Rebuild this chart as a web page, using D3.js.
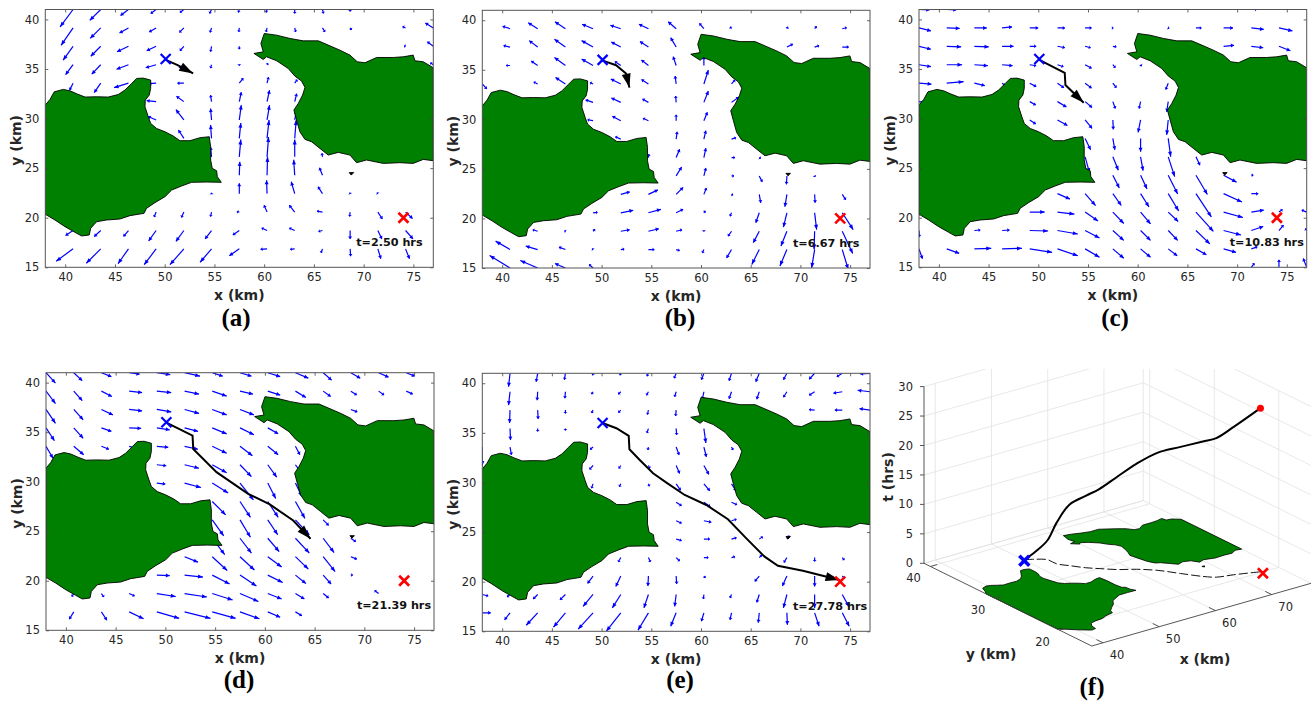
<!DOCTYPE html>
<html>
<head>
<meta charset="utf-8">
<script src="https://cdnjs.cloudflare.com/ajax/libs/d3/7.8.5/d3.min.js"></script>
<style>
  html, body { margin: 0; padding: 0; background: #fff; }
  svg { display: block; }
</style>
</head>
<body>
<div id="chart"></div>
<script>
// quiver grid (km), rows of the matrices below run from top (y=41) to bottom (y=15)
const xGrid = [38, 40.79, 43.57, 46.36, 49.14, 51.93, 54.71, 57.5, 60.29, 63.07, 65.86, 68.64, 71.43, 74.21, 77];
const yGrid = [41, 39.14, 37.29, 35.43, 33.57, 31.71, 29.86, 28, 26.14, 24.29, 22.43, 20.57, 18.71, 16.86, 15];

const xTicks = [40, 45, 50, 55, 60, 65, 70, 75];
const yTicks = [15, 20, 25, 30, 35, 40];
const panelNames = ["(a)", "(b)", "(c)", "(d)", "(e)"];
const panelTimes = ["t=2.50 hrs", "t=6.67 hrs", "t=10.83 hrs", "t=21.39 hrs", "t=27.78 hrs"];

// coast outlines (km)
const leftIslandX = [38, 38.47, 38.9, 39.81, 40.48, 41.22, 42, 43.16, 44.33, 45.34, 46, 46.68, 47.18, 47.85, 48.59, 48.59, 48.45, 48.05, 48.02, 48.35, 48.59, 49.19, 50.03, 50.86, 51.53, 52.54, 53.54, 54.48, 54.62, 54.62, 54.78, 55.22, 55.29, 55.69, 54.21, 52.71, 51.7, 50.7, 50.03, 49.02, 48.18, 47.92, 46.51, 45.5, 44.16, 43.16, 42.56, 42.42, 41.65, 40.98, 39.98, 38.97, 38.13, 38];
const leftIslandY = [31.36, 31.93, 32.7, 32.94, 32.8, 32.47, 32.17, 32.2, 32.17, 32.43, 32.87, 33.54, 34.05, 34.08, 33.88, 33.04, 32.37, 31.86, 31.19, 30.18, 29.51, 29, 28.67, 28.24, 27.77, 27.77, 28.07, 28.17, 27.16, 25.82, 24.98, 24.74, 24.14, 23.57, 23.6, 23.57, 23.2, 22.79, 22.12, 21.52, 20.95, 20.44, 20.21, 19.87, 19.77, 19.6, 18.93, 18.26, 18.16, 18.53, 19.1, 19.77, 20.27, 20.27];
const rightIslandX = [60.01, 61.25, 62.59, 63.93, 65.44, 66.44, 67.61, 68.62, 69.36, 70.13, 71.3, 72.97, 73.98, 74.98, 75.15, 75.99, 77, 77, 75.99, 74.98, 73.64, 71.97, 70.29, 69.29, 68.62, 67.45, 66.44, 65.6, 64.77, 64.1, 63.59, 63.26, 62.99, 63.43, 63.86, 64.1, 63.76, 63.09, 62.42, 61.25, 60.24, 59.91, 58.97, 59.91, 59.67];
const rightIslandY = [38.58, 38.41, 38.08, 37.84, 37.84, 37.41, 36.9, 36.4, 35.73, 35.63, 36.16, 36.16, 36.23, 36.4, 35.83, 35.73, 35.12, 25.75, 25.88, 25.48, 25.55, 25.48, 25.82, 25.55, 26.32, 26.59, 26.32, 26.99, 27.66, 27.9, 28.67, 29.85, 30.86, 31.53, 32.37, 33.14, 33.78, 34.28, 35.05, 35.83, 36.23, 35.96, 36.57, 36.73, 37.57];
const isletX = [68.55, 69, 68.75];
const isletY = [24.55, 24.55, 24.3];

const startPoint = [50.1, 36];
const goalPoint = [74, 20];

// vehicle tracks read per panel (km), last point is the arrow tip
const trackAX = [50.05, 51.3, 52.86];
const trackAY = [35.95, 35.4, 34.55];
const trackBX = [50.05, 51.46, 52.46, 52.8];
const trackBY = [35.95, 35.46, 34.62, 33.2];
const trackCX = [50.05, 52.66, 52.73, 54.57];
const trackCY = [35.95, 34.62, 33.38, 31.6];
const trackDX = [50.1, 52.73, 52.8, 55.14, 58.32, 60.5, 62.85, 64.59];
const trackDY = [35.97, 34.66, 33.3, 30.96, 28.77, 27.7, 26.08, 24.24];
const trackEX = [50.15, 51.49, 52.73, 52.8, 53.84, 55.18, 56.52, 58.36, 60.54, 62.71, 64.56, 66.4, 67.74, 70.25, 73.94];
const trackEY = [35.97, 35.46, 34.69, 33.34, 32.27, 30.92, 29.98, 28.74, 27.73, 26.29, 24.37, 22.52, 21.61, 21.1, 20.17];
const trackT = [0, 1.3, 3.3, 7, 10.35, 12.2, 13.5, 15.8, 17.9, 20, 21.5, 22.9, 23.6, 25.1, 27.78];

// flow arrows, displacement in km on the chart
const uA = [
  [0,-1.3,-1.1,-.8,-.55,-.4,-.2,-.1,-.1,0,.1,0,0,0,0],
  [0,-1.2,-1.05,-.9,-.7,-.45,-.15,-.05,-.1,.1,.25,.15,0,-.3,-.8],
  [0,-1,-1,-1.15,-.95,-.4,-.1,0,0,0,0,0,0,-.15,-.6],
  [0,-.75,-.9,-1.2,-1.05,-.5,-.1,0,.1,0,0,0,0,0,-.3],
  [0,-.35,-.65,-1.45,-.7,-.65,0,.4,.15,.25,0,0,0,0,0],
  [0,0,0,0,-.95,-.75,-.1,.2,.25,.2,0,0,0,0,0],
  [0,0,0,0,-.8,-.8,-.1,.2,.25,.15,0,0,0,0,0],
  [0,0,0,0,0,-.55,-.1,.15,.2,.15,0,0,0,0,0],
  [0,0,0,0,0,0,-.1,.15,.15,0,-.05,0,0,0,0],
  [0,0,0,0,0,0,0,.05,.05,-.1,-.3,0,0,0,0],
  [0,0,0,0,0,0,0,0,-.05,-.35,-.45,-.05,-.1,0,0],
  [0,0,0,0,-.2,-.25,-.1,-.25,-.3,-.55,-.55,-.05,.45,.7,0],
  [0,-.75,-.65,-.5,-.75,-.8,-.65,-.65,-.55,-.55,-.4,0,.4,.75,0],
  [0,-1.7,-1.45,-1.05,-1.2,-1.4,-1.15,-1,-.65,-.45,-.15,.05,.3,.4,0],
  [0,0,0,0,0,0,0,0,0,0,0,0,0,0,0]
];
const vA = [
  [0,-1.75,-1.1,-.6,-.4,-.3,-.4,-.3,-.3,-.4,-.4,-.2,0,0,0],
  [0,-1.75,-1.05,-.5,-.4,-.45,-.45,-.4,-.4,-.4,-.4,-.2,0,.15,.5],
  [0,-1.4,-1,-.55,-.45,-.45,-.55,-.3,0,0,0,0,0,.05,.45],
  [0,-1,-.95,-.45,-.3,-.3,-.35,-.1,.15,0,0,0,0,0,.2],
  [0,-.7,-.95,-.45,-.05,0,0,.5,.6,.35,0,0,0,0,0],
  [0,0,0,0,.1,.55,.65,.95,1.15,.8,0,0,0,0,0],
  [0,0,0,0,.35,1.05,1.15,1.5,1.5,.85,0,0,0,0,0],
  [0,0,0,0,0,.85,1.35,1.55,1.85,1.85,0,0,0,0,0],
  [0,0,0,0,0,0,1,1.75,2,1.75,.35,0,0,0,0],
  [0,0,0,0,0,0,0,1.35,1.85,1.55,.75,0,0,0,0],
  [0,0,0,0,0,0,.1,1.05,1.35,1.2,.7,.1,.1,0,0],
  [0,0,0,0,-.5,-.55,-.45,.05,.7,.7,.1,-.45,-.7,-.65,0],
  [0,-.5,-.6,-.6,-1.05,-1.1,-.85,-.45,.25,.25,-.1,-.85,-.85,-.85,0],
  [0,-1.25,-1.45,-1.5,-1.6,-1.6,-1.35,-.7,-.05,-.05,-.4,-.75,-1,-1,0],
  [0,0,0,0,0,0,0,0,0,0,0,0,0,0,0]
];
const uB = [
  [0,0,0,0,0,0,0,0,0,0,0,0,0,0,0],
  [0,-.75,-.95,-1.05,-1.1,-1.05,-.95,-.8,-.45,-.15,0,.1,.2,.45,0],
  [0,-.65,-.85,-1.1,-1.15,-.95,-.85,-.55,0,0,0,.6,.45,.65,0],
  [0,-.4,-.65,-1.1,-1.15,-.6,-.7,-.3,0,0,0,0,0,0,0],
  [.45,0,-.4,-1,-.3,-1,-.7,-.1,.45,.35,0,0,0,0,0],
  [0,0,0,0,-.75,-.95,-.6,-.05,.45,.75,0,0,0,0,0],
  [0,0,0,0,-.55,-.85,-.55,0,.35,0,0,0,0,0,0],
  [0,0,0,0,0,-.55,0,.1,.2,.45,0,0,0,0,0],
  [0,0,0,0,0,0,.05,.35,.2,.35,.15,0,0,0,0],
  [0,0,0,0,0,0,0,.55,.2,.25,.3,-.05,.05,0,0],
  [0,0,0,0,0,.9,.95,.7,.25,.15,.15,-.2,.05,.35,0],
  [0,0,0,0,.45,1.25,1.25,.7,.15,-.15,-.35,-.35,.2,1.1,0],
  [0,0,-.5,-.1,.2,.9,1.05,.6,0,-.35,-.6,-.6,-.05,1.05,0],
  [0,-1.45,-1.2,-.65,-.1,.35,.6,.35,-.15,-.5,-.75,-.7,-.3,.6,0],
  [0,-2.05,-1.75,-1.05,-.4,0,0,0,0,0,0,0,0,0,0]
];
const vB = [
  [0,0,0,0,0,0,0,0,0,0,0,0,0,0,0],
  [0,.25,.6,.7,.45,.35,.45,.7,.55,.2,0,.2,.25,.1,0],
  [0,.15,.65,.8,.65,.5,.55,.95,0,0,0,.3,.15,0,0],
  [0,0,.45,.8,.65,.4,.55,.9,.9,0,0,0,0,0,0],
  [-.5,0,.2,.65,.15,.5,.45,.8,1.4,.4,0,0,0,0,0],
  [0,0,0,0,.25,.45,.35,.65,1.15,.55,0,0,0,0,0],
  [0,0,0,0,.1,.45,.25,.6,.85,0,0,0,0,0,0],
  [0,0,0,0,0,.25,0,.75,.85,.15,0,0,0,0,0],
  [0,0,0,0,0,0,.35,.85,.95,0,-.1,0,0,0,0],
  [0,0,0,0,0,0,0,.9,.8,0,-.6,-.85,-.1,0,0],
  [0,0,0,0,0,.25,.45,.7,.65,-.1,-.85,-1.25,-.85,-.55,0],
  [0,0,0,0,.05,.25,.35,.35,.2,-.35,-1,-1.45,-1.7,-1.7,0],
  [0,0,.15,.05,.2,.15,.25,.15,-.05,-.5,-1.15,-1.5,-1.85,-2.25,0],
  [0,.85,.35,.25,.1,.05,0,-.1,-.35,-.85,-1.5,-1.65,-1.85,-2,0],
  [0,1.25,.75,.45,.35,0,0,0,0,0,0,0,0,0,0]
];
const uC = [
  [1.05,.95,0,0,0,0,0,0,0,0,0,0,.55,0,0],
  [1.2,1.3,1.25,1,.85,.75,.65,.05,0,.1,.55,.95,1.25,1.35,0],
  [1.2,1.45,1.45,1.15,.65,.75,.55,.35,0,0,0,1.05,1.2,1.15,0],
  [1.2,1.55,1.35,1.05,.65,.6,.65,.25,.1,0,0,0,0,0,0],
  [1.25,1.7,1.05,.3,.65,.65,.65,.35,0,-.25,0,0,0,0,0],
  [.9,0,0,0,.6,.9,.7,.25,-.15,-.15,0,0,0,0,0],
  [0,0,0,0,.6,1,.7,.05,-.25,-.15,0,0,0,0,0],
  [0,0,0,0,0,0,.55,.2,0,.25,0,0,0,0,0],
  [0,0,0,0,0,0,.45,.55,.25,.65,.4,0,0,0,0],
  [0,0,0,0,0,0,0,.65,.65,.95,1.15,1.3,.2,0,0],
  [0,0,0,0,0,1.25,1.05,.85,.85,1.05,1.55,1.85,.7,0,0],
  [0,0,0,0,1.5,1.7,1.3,1.1,1,1,1.75,1.95,1.25,.35,-.5],
  [.05,0,.6,.75,1.85,2.05,1.45,1.1,1,.95,1.4,1.75,1.2,.45,-.15],
  [.35,1.25,1.7,2,2.25,2.05,1.45,1.1,1,.9,1.05,1.25,.6,0,0],
  [0,0,0,0,0,0,0,0,0,0,0,0,.3,0,-.35]
];
const vC = [
  [-.05,-.05,0,0,0,0,0,0,0,0,0,0,0,0,0],
  [-.3,-.05,0,.1,0,0,0,0,0,-.05,0,0,-.15,-.3,0],
  [-.3,-.05,-.05,0,0,-.15,-.15,-.05,0,0,0,.1,-.15,-.45,0],
  [-.2,0,-.1,-.1,-.1,-.2,-.35,-.3,-.15,0,0,0,0,0,0],
  [-.1,.15,-.25,-.2,-.35,-.45,-.5,-.45,0,-.65,0,0,0,0,0],
  [-.1,0,0,0,-.35,-.55,-.6,-.7,-.7,-1.05,0,0,0,0,0],
  [0,0,0,0,-.4,-.55,-.85,-.95,-1.25,-1.5,0,0,0,0,0],
  [0,0,0,0,0,0,-1.15,-1.15,-1.35,-1.85,0,0,0,0,0],
  [0,0,0,0,0,0,-1.65,-1.35,-1.4,-2,-.85,0,0,0,0],
  [0,0,0,0,0,0,0,-1.3,-1.4,-1.9,-1.95,-.7,0,0,0],
  [0,0,0,0,0,-.55,-1.2,-1.2,-1.35,-1.75,-2.35,-.85,0,0,0],
  [0,0,0,0,0,-.2,-.9,-1.15,-1.2,-.95,-1.95,-.55,.2,.25,.2],
  [-.65,0,.05,.05,-.05,-.35,-.75,-1,-1,-1,-1.35,-.45,.4,.55,.2],
  [-1,-.45,.05,.05,-.35,-.7,-.85,-.95,-.85,-.7,-.6,-.35,.2,0,0],
  [0,0,0,0,0,0,0,0,0,0,0,0,.4,.75,.9]
];
const uD = [
  [.95,.85,1,1.05,1.35,1.55,1.05,1.15,1.25,1.3,.85,.95,1,.85,0],
  [.95,.85,1.05,1.3,1.45,1.45,1.45,1.3,1.25,1.05,.75,.6,.55,.65,0],
  [.95,.95,1.15,1.3,1.45,1.45,1.45,1.4,0,0,0,.65,0,0,0],
  [.85,.95,1,1.2,1.3,1.35,1.45,1.4,1.05,0,0,0,0,0,0],
  [.7,1,.75,.7,1.15,1.35,1.45,1.25,1.05,.45,0,0,0,0,0],
  [0,0,0,0,.95,1.45,1.45,1.15,.9,.5,0,0,0,0,0],
  [0,0,0,0,.85,1.65,1.6,1.35,.8,.65,0,0,0,0,0],
  [0,0,0,0,0,0,1.35,1.05,1.05,.95,0,0,0,0,0],
  [0,0,0,0,0,0,1.15,1.05,1,1.4,.55,0,0,0,0],
  [0,0,0,0,0,0,1.25,1.15,1.15,1.4,1.1,.5,0,0,0],
  [0,0,0,0,0,1.35,1.5,1.45,1.4,1.3,1.2,.6,0,0,0],
  [0,0,0,0,1.3,1.85,1.75,1.65,1.5,1.05,.8,.2,0,0,0],
  [0,-.2,.25,.55,1.9,2.25,2.05,1.85,1.4,.9,.55,0,-.4,0,0],
  [0,-.45,.55,1.45,2.25,2.6,2.35,1.95,1.25,.65,0,0,0,0,0],
  [0,0,0,0,0,0,0,0,0,0,0,0,0,0,0]
];
const vD = [
  [-1.05,-.8,-.4,-.15,-.2,-.35,-.35,-.35,-.4,-.55,-.75,-.55,-.45,-.35,0],
  [-1.25,-.95,-.55,-.15,-.15,-.3,-.5,-.3,-.4,-.65,-.55,-.4,-.4,-.3,0],
  [-1.4,-1.05,-.55,-.15,-.25,-.4,-.55,-.55,0,0,0,-.25,0,0,0],
  [-1.3,-1.05,-.35,-.05,-.2,-.35,-.6,-.7,-.6,0,0,0,0,0,0],
  [-1.2,-.85,-.3,-.2,-.1,-.3,-.7,-.95,-.85,-.85,0,0,0,0,0],
  [0,0,0,0,-.1,-.35,-.8,-1.2,-1.25,-.7,0,0,0,0,0],
  [0,0,0,0,-.1,-.45,-1,-1.7,-1.55,-1.35,0,0,0,0,0],
  [0,0,0,0,0,0,-1.35,-1.6,-1.6,-1.7,0,0,0,0,0],
  [0,0,0,0,0,0,-1.6,-1.75,-1.5,-1.5,-.55,0,0,0,0],
  [0,0,0,0,0,0,-1.65,-1.5,-1.35,-1.5,-1.45,-.35,0,0,0],
  [0,0,0,0,0,-.55,-1.4,-1.35,-1.05,-1.25,-1.5,-.25,0,0,0],
  [0,0,0,0,-.05,-.2,-.9,-1.1,-.75,-.85,-.9,0,0,0,0],
  [0,-.3,-.35,-.25,-.3,-.35,-.65,-.8,-.55,-.55,-.45,0,.3,0,0],
  [0,-.75,-.85,-.7,-.65,-.65,-.65,-.7,-.55,-.4,0,0,0,0,0],
  [0,0,0,0,0,0,0,0,0,0,0,0,0,0,0]
];
const uE = [
  [0,-.15,-.15,-.1,-.05,-.1,-.15,-.2,-.25,-.25,-.35,-.35,-.55,-.55,-1],
  [0,-.15,-.05,-.05,-.15,-.25,-.2,-.15,-.15,-.25,-.25,-.35,-.55,-.9,-1.25],
  [0,-.05,.05,0,-.15,-.25,-.1,-.05,0,0,0,0,-.55,-.75,-1.05],
  [0,.05,0,0,0,0,-.15,.05,.2,.15,0,0,0,0,0],
  [0,.15,0,0,-.3,0,-.05,.3,.25,.15,0,0,0,0,0],
  [0,0,0,0,-.35,-.2,.15,.35,.5,0,0,0,0,0,0],
  [0,0,0,0,-.15,-.15,.1,.45,.6,.45,0,0,0,0,0],
  [0,0,0,0,0,0,0,.55,.65,.55,0,0,0,0,0],
  [0,0,0,0,0,0,0,.55,.75,.5,0,0,0,0,0],
  [0,0,0,0,0,0,0,.55,.6,.5,.35,.25,0,0,0],
  [0,0,0,0,0,-.25,.2,.35,.45,.35,.25,-.3,0,.2,0],
  [0,0,0,0,-.55,-.5,-.05,.05,.15,0,-.45,-.45,0,.25,0],
  [.6,-.3,-.45,-.55,-1,-.85,-.45,-.15,-.05,-.15,-.25,-.35,0,.65,0],
  [.85,-.55,-1.15,-1.2,-1.5,-1.45,-1.05,-.55,-.25,-.15,-.1,.05,.45,.7,0],
  [0,0,0,0,0,0,0,0,0,0,0,0,0,0,0]
];
const vE = [
  [0,-1.35,-.85,-.65,-.2,-.2,-.3,-.5,-.65,-.75,-.85,-.65,-.6,-.35,-.05],
  [0,-1.35,-.85,-.65,-.25,-.25,-.35,-.5,-.75,-.7,-.75,-.55,-.35,-.15,.15],
  [0,-1.3,-.9,-.35,-.3,-.25,-.45,-.6,0,0,0,0,.05,0,.15],
  [0,-1.15,-.3,-.2,0,0,-.45,-.65,-1.45,-.6,0,0,0,0,0],
  [-1.9,-.8,0,0,-.25,0,-.3,-.8,-1,-.3,0,0,0,0,0],
  [0,0,0,0,-.4,-.3,-.3,-.8,-.9,0,0,0,0,0,0],
  [0,0,0,0,-.45,-.3,-.25,-.65,-.7,-.7,0,0,0,0,0],
  [0,0,0,0,0,0,0,-.35,-.45,-.25,0,0,0,0,0],
  [0,0,0,0,0,0,0,-.25,-.15,.15,0,0,0,0,0],
  [0,0,0,0,0,0,0,-.15,0,.15,.25,.35,0,0,0],
  [0,0,0,0,0,-.45,-.45,-.35,0,.1,.25,-.5,-.4,-.25,0],
  [0,0,0,0,-.75,-1.05,-1,-.8,-.2,0,-.55,-1,-1.05,-.25,0],
  [-.15,-.25,-.45,-.55,-1.2,-1.35,-1.35,-1.2,-.45,-.35,-.8,-1.35,-1.35,-1.2,0],
  [0,-.7,-1.25,-1.45,-1.65,-1.85,-1.75,-1.35,-.85,-.7,-1,-1.2,-1.35,-1.35,0],
  [0,0,0,0,0,0,0,0,0,0,0,0,0,0,0]
];

// layout
const W = 1312, H = 702;
const layout = [
  {left: 45.3, right: 433.3, top: 9.5, bottom: 267.3, capX: 236, capY: 326},
  {left: 482.3, right: 870, top: 10.3, bottom: 268, capX: 680, capY: 326},
  {left: 919, right: 1306.7, top: 9.5, bottom: 267.3, capX: 1115, capY: 326},
  {left: 46, right: 434, top: 372.7, bottom: 630.3, capX: 239, capY: 688},
  {left: 482.3, right: 870, top: 373.3, bottom: 631.3, capX: 680, capY: 688}
];
const flows = [[uA, vA], [uB, vB], [uC, vC], [uD, vD], [uE, vE]];
const tracks = [[trackAX, trackAY], [trackBX, trackBY], [trackCX, trackCY], [trackDX, trackDY], [trackEX, trackEY]];

const GREEN = "#008000", TICK_COLOR = "#262626", SANS = "'DejaVu Sans', sans-serif", SERIF = "'Liberation Serif', serif";

const svg = d3.select("#chart").append("svg").attr("width", W).attr("height", H);
const zip = (xs, ys) => xs.map((x, i) => [x, ys[i]]);
const lands = [zip(leftIslandX, leftIslandY), zip(rightIslandX, rightIslandY), zip(isletX, isletY)];

function drawCross(g, px, py, half, color, width) {
    g.append("path")
        .attr("d", `M${px - half},${py - half}L${px + half},${py + half}M${px - half},${py + half}L${px + half},${py - half}`)
        .attr("stroke", color)
        .attr("stroke-width", width)
        .attr("fill", "none");
}

// small filled head at the tip of a line
function arrowHead(x1, y1, x2, y2, len, halfW) {
    const L = Math.hypot(x2 - x1, y2 - y1) || 1;
    const ux = (x2 - x1) / L, uy = (y2 - y1) / L;
    const bx = x2 - ux * len, by = y2 - uy * len;
    return `M${x2},${y2}L${bx - uy * halfW},${by + ux * halfW}L${bx + uy * halfW},${by - ux * halfW}Z`;
}

function styleAxis(sel) {
    sel.selectAll(".domain").remove();
    sel.selectAll("line").attr("stroke", "#404040").attr("stroke-width", 0.8);
    sel.selectAll("text")
        .attr("fill", TICK_COLOR)
        .style("font-family", SANS)
        .style("font-size", "11.5px");
}

function drawMapPanel(i) {
    const box = layout[i];
    const xScale = d3.scaleLinear().domain([38, 77]).range([box.left, box.right]);
    const yScale = d3.scaleLinear().domain([15, 41]).range([box.bottom, box.top]);
    const g = svg.append("g");

    const clipId = `clip-${i}`;
    g.append("clipPath").attr("id", clipId).append("rect")
        .attr("x", box.left).attr("y", box.top)
        .attr("width", box.right - box.left).attr("height", box.bottom - box.top);
    const plot = g.append("g").attr("clip-path", `url(#${clipId})`);

    // quiver
    const [us, vs] = flows[i];
    const arrows = [];
    yGrid.forEach((y, r) => xGrid.forEach((x, c) => {
        const u = us[r][c], v = vs[r][c];
        if (u !== 0 || v !== 0) arrows.push({x, y, u, v});
    }));
    const quiver = plot.append("g");
    quiver.selectAll("line").data(arrows).enter().append("line")
        .attr("x1", d => xScale(d.x))
        .attr("y1", d => yScale(d.y))
        .attr("x2", d => xScale(d.x + d.u))
        .attr("y2", d => yScale(d.y + d.v))
        .attr("stroke", "#0000ff")
        .attr("stroke-width", 1.2);
    quiver.selectAll("path").data(arrows).enter().append("path")
        .attr("d", d => {
            const x1 = xScale(d.x), y1 = yScale(d.y), x2 = xScale(d.x + d.u), y2 = yScale(d.y + d.v);
            const len = Math.min(5, Math.max(1.5, Math.hypot(x2 - x1, y2 - y1) * 0.3));
            return arrowHead(x1, y1, x2, y2, len, 2);
        })
        .attr("fill", "#0000ff");

    // land
    const coast = d3.line().x(d => xScale(d[0])).y(d => yScale(d[1]));
    plot.selectAll("path.land").data(lands).enter().append("path")
        .attr("class", "land")
        .attr("d", d => coast(d) + "Z")
        .attr("fill", (d, k) => k === 2 ? "#000" : GREEN)
        .attr("stroke", "#000")
        .attr("stroke-width", 0.9)
        .attr("stroke-linejoin", "round");

    // track with its arrow head
    const track = zip(tracks[i][0], tracks[i][1]);
    const n = track.length;
    plot.append("path")
        .attr("d", d3.line().x(d => xScale(d[0])).y(d => yScale(d[1]))(track))
        .attr("fill", "none")
        .attr("stroke", "#000")
        .attr("stroke-width", 2);
    plot.append("path")
        .attr("d", arrowHead(xScale(track[n - 2][0]), yScale(track[n - 2][1]), xScale(track[n - 1][0]), yScale(track[n - 1][1]), 14, 4.5))
        .attr("fill", "#000");

    drawCross(plot, xScale(startPoint[0]), yScale(startPoint[1]), 5, "#0000ff", 2.2);
    drawCross(plot, xScale(goalPoint[0]), yScale(goalPoint[1]), 5, "#ff0000", 2.6);

    plot.append("text")
        .attr("x", xScale(69.25))
        .attr("y", yScale(17.1))
        .attr("fill", "#111")
        .style("font-family", SANS)
        .style("font-weight", "bold")
        .style("font-size", "11.2px")
        .text(panelTimes[i]);

    // axes
    g.append("g").attr("transform", `translate(0,${box.bottom})`)
        .call(d3.axisBottom(xScale).tickValues(xTicks).tickSize(-3).tickPadding(6)).call(styleAxis);
    g.append("g").attr("transform", `translate(${box.left},0)`)
        .call(d3.axisLeft(yScale).tickValues(yTicks).tickSize(-3).tickPadding(6)).call(styleAxis);
    g.append("g").attr("transform", `translate(0,${box.top})`)
        .call(d3.axisTop(xScale).tickValues(xTicks).tickSize(-3).tickFormat("")).call(styleAxis);
    g.append("g").attr("transform", `translate(${box.right},0)`)
        .call(d3.axisRight(yScale).tickValues(yTicks).tickSize(-3).tickFormat("")).call(styleAxis);
    g.append("rect")
        .attr("x", box.left).attr("y", box.top)
        .attr("width", box.right - box.left).attr("height", box.bottom - box.top)
        .attr("fill", "none")
        .attr("stroke", "#555")
        .attr("stroke-width", 1);

    // labels
    g.append("text")
        .attr("x", (box.left + box.right) / 2)
        .attr("y", box.bottom + 33)
        .attr("text-anchor", "middle")
        .attr("fill", TICK_COLOR)
        .style("font-family", SANS).style("font-weight", "bold").style("font-size", "14px")
        .text("x (km)");
    g.append("text")
        .attr("transform", `translate(${box.left - 24},${(box.top + box.bottom) / 2 + 2}) rotate(-90)`)
        .attr("text-anchor", "middle")
        .attr("fill", TICK_COLOR)
        .style("font-family", SANS).style("font-weight", "bold").style("font-size", "14px")
        .text("y (km)");
    g.append("text")
        .attr("x", box.capX).attr("y", box.capY)
        .attr("text-anchor", "middle")
        .attr("fill", "#000")
        .style("font-family", SERIF).style("font-weight", "bold").style("font-size", "25px")
        .text(panelNames[i]);
}

d3.range(5).forEach(drawMapPanel);

// panel (f): orthographic 3D view, built from one linear scale per axis and screen direction
const xToPx = d3.scaleLinear().domain([38, 77]).range([0, 219.3]);
const xToPy = d3.scaleLinear().domain([38, 77]).range([0, -62.7]);
const yToPx = d3.scaleLinear().domain([15, 41]).range([0, -167.7]);
const yToPy = d3.scaleLinear().domain([15, 41]).range([0, -82.7]);
const tToPy = d3.scaleLinear().domain([0, 30]).range([0, -176.7]);
const originX = 1091.7, originY = 646;
const proj = (x, y, t = 0) => [originX + xToPx(x) + yToPx(y), originY + xToPy(x) + yToPy(y) + tToPy(t)];

const f = svg.append("g");
f.append("clipPath").attr("id", "clip-f").append("rect")
    .attr("x", 880).attr("y", 369).attr("width", 432).attr("height", 333);
const fPlot = f.append("g").attr("clip-path", "url(#clip-f)");

const xTicks3d = [40, 50, 60, 70];
const yTicks3d = [20, 30, 40];
const tTicks3d = [0, 5, 10, 15, 20, 25, 30];

// grid segments: floor, wall at y=41, wall at x=77
const grid = [];
xTicks3d.forEach(x => {
    grid.push([proj(x, 15), proj(x, 41)]);
    grid.push([proj(x, 41), proj(x, 41, 30)]);
});
yTicks3d.forEach(y => {
    grid.push([proj(38, y), proj(77, y)]);
    grid.push([proj(77, y), proj(77, y, 30)]);
});
tTicks3d.forEach(t => {
    grid.push([proj(38, 41, t), proj(77, 41, t)]);
    grid.push([proj(77, 41, t), proj(77, 15, t)]);
});
grid.push([proj(77, 41), proj(77, 41, 30)]);
grid.push([proj(77, 41), proj(38, 41)]);
fPlot.selectAll("line.grid").data(grid).enter().append("line")
    .attr("class", "grid")
    .attr("x1", d => d[0][0]).attr("y1", d => d[0][1])
    .attr("x2", d => d[1][0]).attr("y2", d => d[1][1])
    .attr("stroke", "#e2e2e2")
    .attr("stroke-width", 0.8);

// land on the floor
const coast3d = d3.line().x(d => proj(d[0], d[1])[0]).y(d => proj(d[0], d[1])[1]);
fPlot.selectAll("path.land").data(lands).enter().append("path")
    .attr("class", "land")
    .attr("d", d => coast3d(d) + "Z")
    .attr("fill", (d, k) => k === 2 ? "#000" : GREEN)
    .attr("stroke", "#000")
    .attr("stroke-width", 0.8);

// track on the floor and through time
const floorTrack = zip(trackEX, trackEY);
fPlot.append("path")
    .attr("d", d3.line().curve(d3.curveCatmullRom).x(d => proj(d[0], d[1])[0]).y(d => proj(d[0], d[1])[1])(floorTrack))
    .attr("fill", "none")
    .attr("stroke", "#111")
    .attr("stroke-width", 1)
    .attr("stroke-dasharray", "9,3");
const timeTrack = trackEX.map((x, i) => proj(x, trackEY[i], trackT[i]));
fPlot.append("path")
    .attr("d", d3.line().curve(d3.curveCatmullRom)(timeTrack))
    .attr("fill", "none")
    .attr("stroke", "#000")
    .attr("stroke-width", 2);

const startPx = proj(startPoint[0], startPoint[1]);
const goalPx = proj(goalPoint[0], goalPoint[1]);
drawCross(fPlot, startPx[0], startPx[1] + 1, 5, "#0000ff", 3.5);
drawCross(fPlot, goalPx[0] + 1, goalPx[1] + 1, 5, "#ff0000", 2.6);
const endPx = timeTrack[timeTrack.length - 1];
fPlot.append("circle").attr("cx", endPx[0]).attr("cy", endPx[1]).attr("r", 3.5).attr("fill", "#ff0000");

// axis lines and ticks
const axisSegs = [
    [proj(38, 41), proj(38, 15)],
    [proj(38, 15), proj(77, 15)],
    [proj(38, 41), proj(38, 41, 30)]
];
xTicks3d.forEach(x => axisSegs.push([proj(x, 15), proj(x, 16, 0)]));
yTicks3d.forEach(y => axisSegs.push([proj(38, y), proj(39.2, y, 0)]));
tTicks3d.forEach(t => {
    const p = proj(38, 41, t);
    axisSegs.push([p, [p[0] - 4, p[1]]]);
});
f.selectAll("line.axis").data(axisSegs).enter().append("line")
    .attr("class", "axis")
    .attr("x1", d => d[0][0]).attr("y1", d => d[0][1])
    .attr("x2", d => d[1][0]).attr("y2", d => d[1][1])
    .attr("stroke", "#444")
    .attr("stroke-width", 0.9);

// tick labels are offset from the projected tick
function tickLabel(p, dx, dy, txt, anchor) {
    f.append("text")
        .attr("x", p[0] + dx).attr("y", p[1] + dy)
        .attr("text-anchor", anchor)
        .attr("fill", TICK_COLOR)
        .style("font-family", SANS).style("font-size", "11.5px")
        .text(txt);
}
tTicks3d.forEach(t => tickLabel(proj(38, 41, t), -11, 4, t, "end"));
xTicks3d.forEach(x => tickLabel(proj(x, 15), 14, 16, x, "middle"));
yTicks3d.forEach(y => tickLabel(proj(38, y), -17, 16, y, "middle"));

const bold3d = (sel) => sel.attr("text-anchor", "middle").attr("fill", TICK_COLOR)
    .style("font-family", SANS).style("font-weight", "bold").style("font-size", "14px");
f.append("text").attr("x", 991).attr("y", 659).attr("class", "lab").call(bold3d).text("y (km)");
f.append("text").attr("x", 1205).attr("y", 664).attr("class", "lab").call(bold3d).text("x (km)");
f.append("text").attr("transform", "translate(893,477) rotate(-90)").call(bold3d).text("t (hrs)");
f.append("text").attr("x", 1092).attr("y", 695)
    .attr("text-anchor", "middle")
    .attr("fill", "#000")
    .style("font-family", SERIF).style("font-weight", "bold").style("font-size", "25px")
    .text("(f)");
</script>
</body>
</html>
